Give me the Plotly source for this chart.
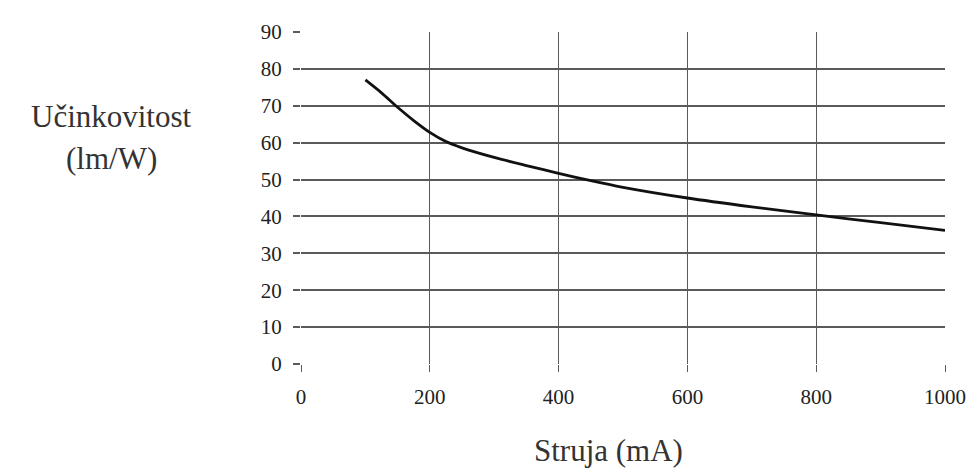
import plotly.graph_objects as go

current_ma = [100, 125, 150, 175, 200, 225, 250, 300, 350, 400, 450, 500, 600, 700, 800, 900, 1000]
efficacy = [77.0, 73.5, 69.6, 66.0, 62.8, 60.3, 58.6, 56.0, 53.8, 51.7, 49.7, 47.9, 45.0, 42.6, 40.4, 38.3, 36.2]

x_ticks = [0, 200, 400, 600, 800, 1000]
y_ticks = [0, 10, 20, 30, 40, 50, 60, 70, 80, 90]

fig = go.Figure()
fig.add_trace(go.Scatter(x=current_ma, y=efficacy, mode="lines",
                         line=dict(color="#111111", width=2.8, shape="spline", smoothing=0.8),
                         showlegend=False, hoverinfo="skip"))

grid_col = "#5a5a5a"
tick_font = dict(size=21, family="Liberation Serif", color="#222222")
fig.update_layout(
    width=970, height=465,
    margin=dict(l=293, r=29, t=13, b=109),
    paper_bgcolor="white", plot_bgcolor="white",
    font=dict(family="Liberation Serif", color="#1a1a1a"),
    xaxis=dict(range=[0, 1000], tickvals=x_ticks, showgrid=True, gridcolor=grid_col, gridwidth=1.3,
               zeroline=False, showline=False, ticks="outside", ticklen=7, tickcolor=grid_col, tickwidth=1.3,
               tickfont=tick_font, ticklabelstandoff=7),
    yaxis=dict(range=[0, 90], tickvals=y_ticks, showgrid=True, gridcolor=grid_col, gridwidth=1.8,
               zeroline=False, showline=False, ticks="outside", ticklen=7, tickcolor=grid_col, tickwidth=1.8,
               tickfont=tick_font, ticklabelstandoff=7),
    annotations=[
        dict(text="Učinkovitost", xref="paper", yref="paper", x=-0.295, y=0.745,
             showarrow=False, font=dict(size=31, family="Liberation Serif", color="#333333"),
             xanchor="center", yanchor="middle"),
        dict(text="(lm/W)", xref="paper", yref="paper", x=-0.295, y=0.62,
             showarrow=False, font=dict(size=31, family="Liberation Serif", color="#333333"),
             xanchor="center", yanchor="middle"),
        dict(text="Struja (mA)", xref="paper", yref="paper", x=0.477, y=-0.262,
             showarrow=False, font=dict(size=31, family="Liberation Serif", color="#333333"),
             xanchor="center", yanchor="middle"),
    ],
)
fig.write_html("out.html")
